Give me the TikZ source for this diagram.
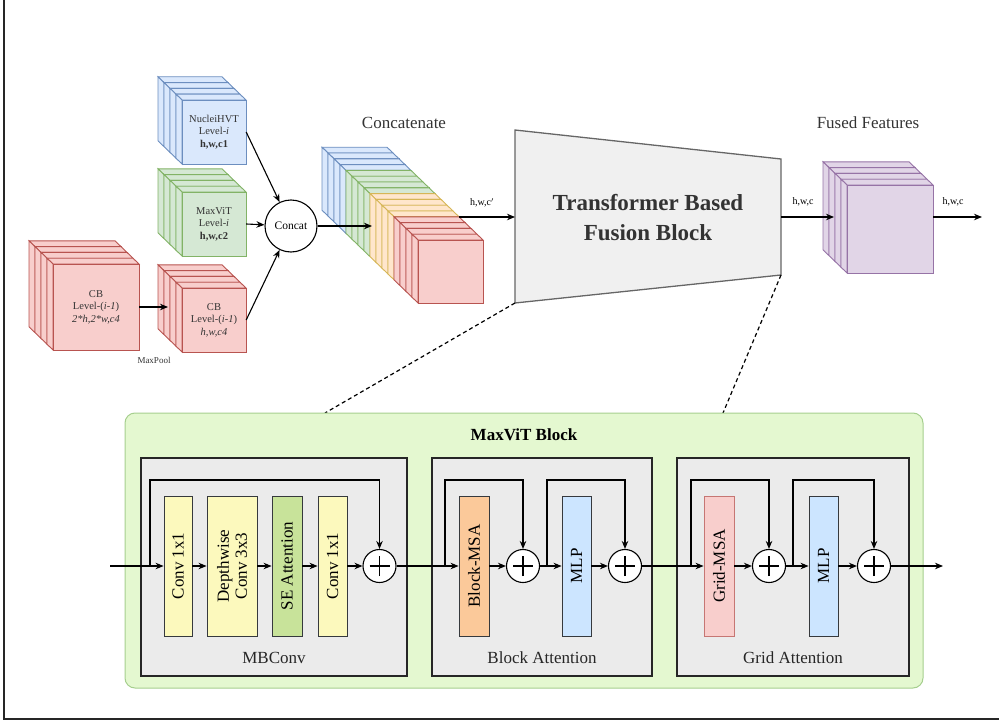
\documentclass[tikz,border=0pt]{standalone}
\usepackage{fontspec}
\setmainfont{Liberation Serif}
\usetikzlibrary{arrows.meta}

\definecolor{bluef}{HTML}{DAE8FC}\definecolor{blued}{HTML}{6C8EBF}
\definecolor{greenf}{HTML}{D5E8D4}\definecolor{greend}{HTML}{82B366}
\definecolor{redf}{HTML}{F8CECC}\definecolor{redd}{HTML}{B85450}
\definecolor{orgf}{HTML}{FFE6CC}\definecolor{orgd}{HTML}{D6B656}
\definecolor{purf}{HTML}{E1D5E7}\definecolor{purd}{HTML}{9673A6}
\definecolor{maxf}{HTML}{E4F8D0}\definecolor{maxd}{HTML}{A6CF8E}
\definecolor{framef}{HTML}{EBEBEB}\definecolor{dark}{HTML}{36393D}
\definecolor{convf}{HTML}{FCF9BD}\definecolor{sef}{HTML}{C8E39A}
\definecolor{msaf}{HTML}{FBC99A}\definecolor{mlpf}{HTML}{CCE5FF}
\definecolor{txtgray}{HTML}{333333}

% one slab of a feature stack: front face top-left (#1,#2), size #3 x #4
\newcommand{\cubelayer}[5]{%
  \filldraw[#5] (#1,#2) -- ++(-6,-5.8) -- ++(#3,0) -- ++(6,5.8) -- cycle;
  \filldraw[#5] (#1,#2) -- ++(-6,-5.8) -- ++(0,#4) -- ++(6,5.8) -- cycle;
  \filldraw[#5] (#1,#2) rectangle ++(#3,#4);}

\tikzset{
  bluel/.style={fill=bluef, draw=blued, line width=0.9pt},
  greenl/.style={fill=greenf, draw=greend, line width=0.9pt},
  redl/.style={fill=redf, draw=redd, line width=0.9pt},
  orgl/.style={fill=orgf, draw=orgd, line width=0.9pt},
  purl/.style={fill=purf, draw=purd, line width=0.9pt},
  stacktext/.style={inner sep=0pt, align=center, text=txtgray, font=\fontsize{10.5}{12.5}\selectfont},
  arr/.style={-{Stealth[length=8pt,width=6.5pt]}, line width=1.1pt},
  small/.style={font=\fontsize{10}{12}\selectfont},
  head/.style={font=\fontsize{17}{20}\selectfont, text=txtgray},
  bar/.style={draw=dark, line width=0.9pt, rotate=90, inner sep=0pt, minimum width=140,
    align=center, font=\fontsize{17}{18}\selectfont},
  frame/.style={draw=black!85, fill=framef, line width=1.3pt, inner sep=0pt},
  plus/.style={circle, draw=black, fill=white, line width=1.1pt, minimum size=33, inner sep=0pt,
    path picture={\draw[line width=1.1pt] ([xshift=-10pt]path picture bounding box.center) -- ([xshift=10pt]path picture bounding box.center)
      ([yshift=-10pt]path picture bounding box.center) -- ([yshift=10pt]path picture bounding box.center);}},
  dotted line/.style={dash pattern=on 4pt off 3pt, line width=1.2pt},
}

\begin{document}
\begin{tikzpicture}[x=1pt, y=-1pt]
	\useasboundingbox (0,0) rectangle (999,725);
	\draw[line width=1.3pt, black!85] (4,0) -- (4,719) -- (999,719);

	% input stacks
	\foreach \i in {3,...,0} \cubelayer{182-6*\i}{100-5.8*\i}{64}{64}{bluel};
	\node[stacktext, minimum width=64, minimum height=64] (nuc) at (214,132) {NucleiHVT\\Level-\textit{i}\\\textbf{h,w,c1}};
	\foreach \i in {3,...,0} \cubelayer{182-6*\i}{192-5.8*\i}{64}{64}{greenl};
	\node[stacktext, minimum width=64, minimum height=64] (mvt) at (214,224) {MaxViT\\Level-\textit{i}\\\textbf{h,w,c2}};
	\foreach \i in {3,...,0} \cubelayer{53-6*\i}{264-5.8*\i}{86}{86}{redl};
	\node[stacktext, minimum width=86, minimum height=86] (cbb) at (96,307) {CB\\Level-(\textit{i-1})\\\textit{2*h,2*w,c4}};
	\foreach \i in {3,...,0} \cubelayer{182-6*\i}{288-5.8*\i}{64}{64}{redl};
	\node[stacktext, minimum width=64, minimum height=64] (cbs) at (214,320) {CB\\Level-(\textit{i-1})\\\textit{h,w,c4}};
	\node[stacktext, font=\fontsize{9}{10}\selectfont] (mpl) at (154,360) {MaxPool};
	\coordinate (mpin) at (168,307);
	\draw[arr] (cbb.east) -- (mpin);

	\node[circle, draw=black, fill=white, line width=1.1pt, minimum size=52, inner sep=0pt,
		font=\fontsize{11.5}{13}\selectfont] (cat) at (291,226) {Concat};
	\draw[arr] (nuc.east) -- (cat);
	\draw[arr] (mvt.east) -- (cat);
	\draw[arr] (cbs.east) -- (cat);

	% concatenated stack
	\foreach \i in {15,...,12} \cubelayer{418-6*\i}{240-5.8*\i}{65}{63}{bluel};
	\foreach \i in {11,...,8} \cubelayer{418-6*\i}{240-5.8*\i}{65}{63}{greenl};
	\foreach \i in {7,...,4} \cubelayer{418-6*\i}{240-5.8*\i}{65}{63}{orgl};
	\foreach \i in {3,...,0} \cubelayer{418-6*\i}{240-5.8*\i}{65}{63}{redl};
	\node[inner sep=0pt, minimum width=65, minimum height=63] (cct) at (450.5,271.5) {};
	\node[head] (cctl) at (404,123) {Concatenate};
	\coordinate (cin) at (372,226);
	\draw[arr] (cat) -- (cin);

	% fusion block
	\coordinate (tl) at (515,130);
	\coordinate (tr) at (781,159);
	\coordinate (br) at (781,275);
	\coordinate (bl) at (515,303);
	\draw[fill=black!6, draw=black!60, line width=1.3pt] (tl) -- (tr) -- (br) -- (bl) -- cycle;
	\node[align=center, text=txtgray, font=\fontsize{23}{30}\selectfont\bfseries] (tbf) at (648,218) {Transformer Based\\Fusion Block};
	\coordinate (cout) at (459,217);
	\coordinate (tin) at (515,217);
	\coordinate (tout) at (781,217);
	\draw[arr] (cout) -- (tin);
	\node[small] (hwc1) at (482,203) {h,w,c$'$};

	% fused features
	\foreach \i in {3,...,0} \cubelayer{847-6*\i}{185-5.8*\i}{86}{88}{purl};
	\node[inner sep=0pt, minimum width=86, minimum height=88] (fus) at (890,229) {};
	\node[head] (fusl) at (868,123) {Fused Features};
	\coordinate (fin) at (834,217);
	\coordinate (fout) at (982,217);
	\draw[arr] (tout) -- (fin);
	\draw[arr] (fus.east |- fout) -- (fout);
	\node[small] (hwc2) at (803,202) {h,w,c};
	\node[small] (hwc3) at (953,202) {h,w,c};

	% MaxViT block
	\coordinate (dl) at (325,413);
	\coordinate (dr) at (723,413);
	\draw[dotted line] (bl) -- (dl);
	\draw[dotted line] (br) -- (dr);
	\draw[fill=maxf, draw=maxd, line width=1pt, rounded corners=10] (125,413) rectangle (923,688);
	\node[font=\fontsize{17}{20}\selectfont\bfseries] (mxl) at (524,435) {MaxViT Block};
	\node[frame, minimum width=266, minimum height=218] (mbc) at (274,567) {};
	\node[frame, minimum width=220, minimum height=218] (bat) at (542,567) {};
	\node[frame, minimum width=232, minimum height=218] (gat) at (793,567) {};
	\node[head, text=black!85] (mbcl) at (274,658) {MBConv};
	\node[head, text=black!85] (batl) at (542,658) {Block Attention};
	\node[head, text=black!85] (gatl) at (793,658) {Grid Attention};

	\node[bar, fill=convf, minimum height=28] (c1) at (178,566) {Conv 1x1};
	\node[bar, fill=convf, minimum height=50] (dw) at (232,566) {Depthwise\\Conv 3x3};
	\node[bar, fill=sef, minimum height=30] (se) at (287,566) {SE Attention};
	\node[bar, fill=convf, minimum height=29] (c2) at (332.5,566) {Conv 1x1};
	\node[plus] (p1) at (379.5,566) {};
	\node[bar, fill=msaf, minimum height=30] (bmsa) at (474,566) {Block-MSA};
	\node[plus] (p2) at (523,566) {};
	\node[bar, fill=mlpf, minimum height=29] (mlp1) at (576.5,566) {MLP};
	\node[plus] (p3) at (625,566) {};
	\node[bar, fill=redf, draw=redd!80, minimum height=30] (gmsa) at (719,566) {Grid-MSA};
	\node[plus] (p4) at (769,566) {};
	\node[bar, fill=mlpf, minimum height=29] (mlp2) at (823.5,566) {MLP};
	\node[plus] (p5) at (874,566) {};

	\coordinate (in) at (110,566);
	\coordinate (out) at (943,566);
	\draw[arr] (in) -- (c1);
	\draw[arr] (c1) -- (dw);
	\draw[arr] (dw) -- (se);
	\draw[arr] (se) -- (c2);
	\draw[arr] (c2) -- (p1);
	\draw[arr] (p1) -- (bmsa);
	\draw[arr] (bmsa) -- (p2);
	\draw[arr] (p2) -- (mlp1);
	\draw[arr] (mlp1) -- (p3);
	\draw[arr] (p3) -- (gmsa);
	\draw[arr] (gmsa) -- (p4);
	\draw[arr] (p4) -- (mlp2);
	\draw[arr] (mlp2) -- (p5);
	\draw[arr] (p5) -- (out);

	% residual skips
	\foreach \s/\p in {150/p1, 445/p2, 547/p3, 691/p4, 793/p5}
		\draw[arr] (\s,566) -- (\s,480) -| (\p);
\end{tikzpicture}
\end{document}
